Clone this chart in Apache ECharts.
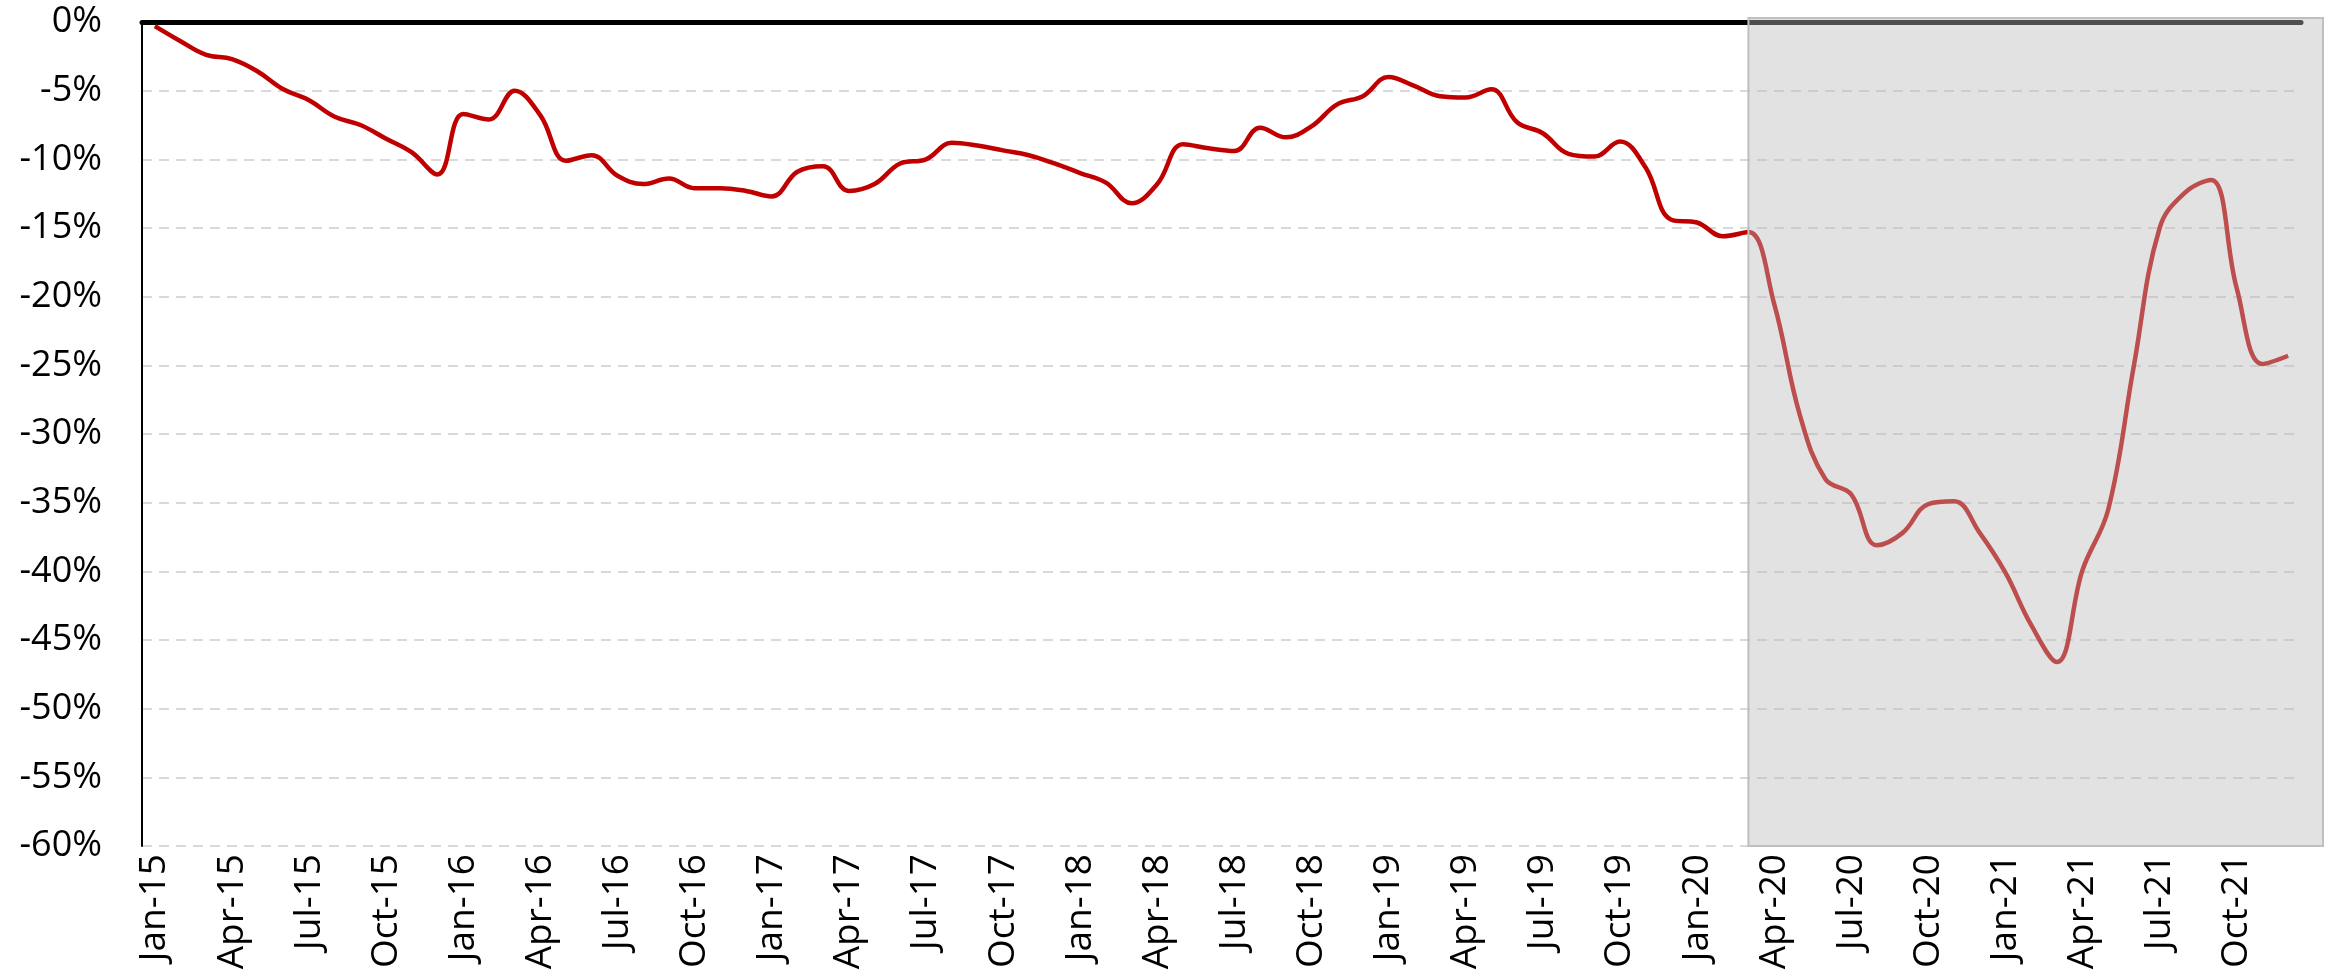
<!DOCTYPE html>
<html>
<head>
<meta charset="utf-8">
<title>chart</title>
<script src="https://cdn.jsdelivr.net/npm/echarts@6/dist/echarts.min.js"></script>
<style>
  html, body { margin: 0; padding: 0; background: #fff; }
  #main { width: 2331px; height: 973px; }
</style>
</head>
<body>
<div id="main"></div>
<script>
// months and years for the category axis
const monthNames = ['Jan', 'Feb', 'Mar', 'Apr', 'May', 'Jun', 'Jul', 'Aug', 'Sep', 'Oct', 'Nov', 'Dec']
const yearLabels = ['15', '16', '17', '18', '19', '20', '21']

// values in %, one array per year
const v2015 = [-0.3, -1.4, -2.4, -2.7, -3.6, -4.9, -5.7, -6.9, -7.5, -8.5, -9.5, -11.1]
const v2016 = [-6.7, -7.1, -5.0, -6.8, -10.1, -9.7, -11.2, -11.8, -11.4, -12.1, -12.1, -12.3]
const v2017 = [-12.7, -10.9, -10.5, -12.3, -11.8, -10.3, -10.0, -8.8, -9.0, -9.35, -9.7, -10.3]
const v2018 = [-11.0, -11.7, -13.2, -11.8, -8.9, -9.2, -9.4, -7.7, -8.4, -7.6, -6.0, -5.4]
const v2019 = [-4.0, -4.65, -5.4, -5.5, -4.9, -7.3, -8.1, -9.6, -9.8, -8.7, -10.6, -14.4]
const v2020 = [-14.6, -15.6, -15.3, -20.5, -28.6, -33.3, -34.4, -38.1, -37.2, -35.1, -34.9, -37.2]
const v2021 = [-40.1, -43.9, -46.6, -39.9, -35.5, -25.0, -15.0, -12.4, -11.5, -19.4, -24.9, -24.3]

// shaded period starts here
const shadeFrom = 'Mar-20'

const categories = []
yearLabels.forEach(y => {
  monthNames.forEach(m => categories.push(m + '-' + y))
})
const values = [].concat(v2015, v2016, v2017, v2018, v2019, v2020, v2021)

const chartInstance = echarts.init(document.getElementById('main'))
const fontFamily = '"Open Sans", "DejaVu Sans", sans-serif'

const option = {
  animation: false,
  backgroundColor: '#fff',
  grid: {
    left: 142,
    right: 30,
    top: 22,
    bottom: 127
  },
  xAxis: [
    {
      type: 'category',
      data: categories,
      position: 'bottom',
      boundaryGap: true,
      axisLine: { show: false },
      axisTick: { show: false },
      axisLabel: {
        interval: 2,
        rotate: 90,
        margin: 8,
        color: '#000',
        fontSize: 37,
        fontFamily: fontFamily
      },
      splitLine: { show: false }
    },
    {
      // zero line on top
      type: 'category',
      data: categories,
      position: 'top',
      boundaryGap: true,
      axisLine: { show: true, lineStyle: { color: '#000', width: 5 } },
      axisTick: { show: false },
      axisLabel: { show: false },
      splitLine: { show: false }
    }
  ],
  yAxis: {
    type: 'value',
    min: -60,
    max: 0,
    interval: 5,
    axisLine: { show: true, lineStyle: { color: '#000', width: 2 } },
    axisTick: { show: false },
    axisLabel: {
      margin: 40,
      color: '#000',
      fontSize: 36,
      fontFamily: fontFamily,
      formatter: val => val + '%'
    },
    splitLine: {
      show: true,
      lineStyle: { color: '#d9d9d9', width: 2, type: [10, 7] }
    }
  },
  series: [
    {
      type: 'line',
      data: values,
      smooth: 0.4,
      showSymbol: false,
      symbol: 'none',
      lineStyle: { color: '#c00000', width: 4.5 },
      z: 2
    }
  ]
}
chartInstance.setOption(option)

function drawShade () {
  // grey overlay for the last period, placed through the axes
  const x0 = chartInstance.convertToPixel({ xAxisIndex: 0 }, shadeFrom)
  const yTop = chartInstance.convertToPixel({ yAxisIndex: 0 }, 0.3)
  const yBottom = chartInstance.convertToPixel({ yAxisIndex: 0 }, -60)
  const xEnd = chartInstance.getWidth() - 8
  chartInstance.setOption({
    graphic: [{
      type: 'rect',
      id: 'shade',
      z: 10,
      silent: true,
      shape: { x: x0, y: yTop, width: xEnd - x0, height: yBottom - yTop },
      style: { fill: 'rgba(187,187,187,0.42)', stroke: '#bfbfbf', lineWidth: 2 }
    }]
  })
}
drawShade()

window.addEventListener('resize', () => {
  chartInstance.resize()
  drawShade()
})
</script>
</body>
</html>
